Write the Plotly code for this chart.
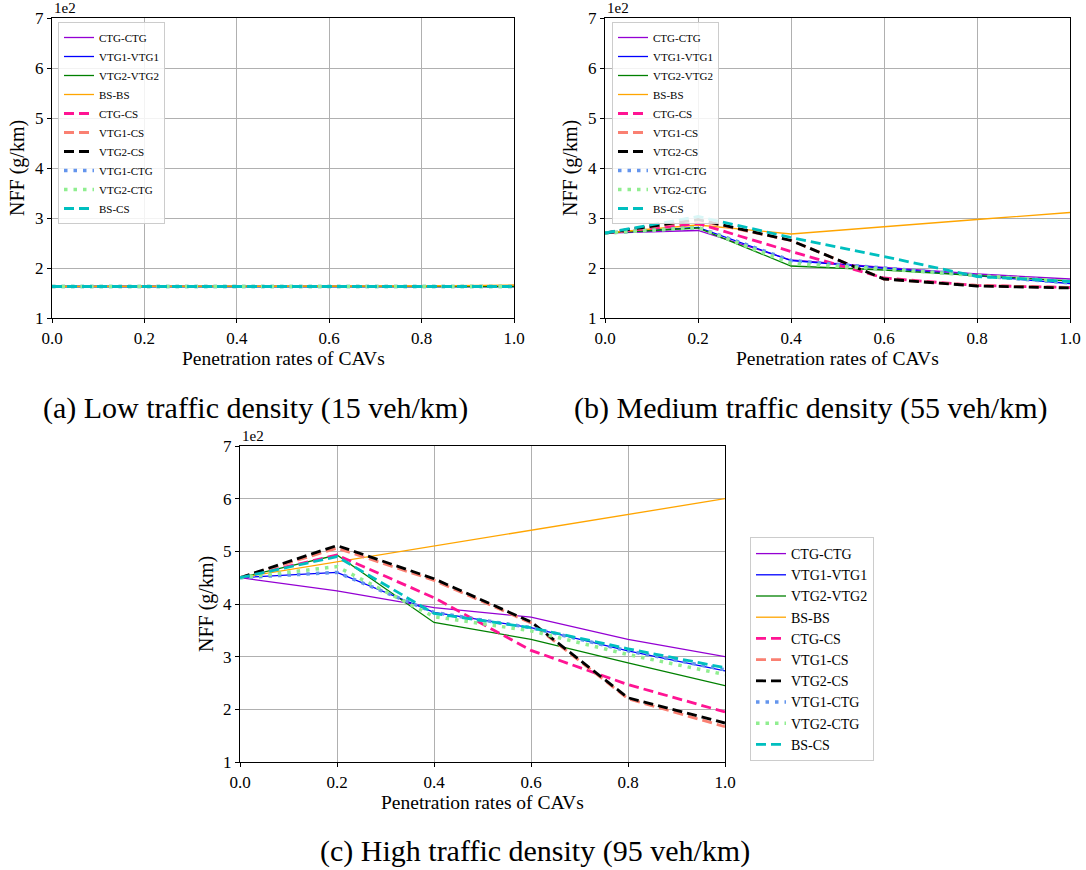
import plotly.graph_objects as go

x_rates = [0.0, 0.2, 0.4, 0.6, 0.8, 1.0]

series_names = ["CTG-CTG", "VTG1-VTG1", "VTG2-VTG2", "BS-BS", "CTG-CS",
                "VTG1-CS", "VTG2-CS", "VTG1-CTG", "VTG2-CTG", "BS-CS"]

# values in units of 1e2 g/km
low_density = {
    "CTG-CTG":   [1.63, 1.63, 1.63, 1.63, 1.63, 1.63],
    "VTG1-VTG1": [1.63, 1.63, 1.63, 1.63, 1.63, 1.63],
    "VTG2-VTG2": [1.63, 1.63, 1.63, 1.63, 1.63, 1.63],
    "BS-BS":     [1.63, 1.63, 1.63, 1.64, 1.64, 1.66],
    "CTG-CS":    [1.63, 1.63, 1.63, 1.63, 1.63, 1.63],
    "VTG1-CS":   [1.63, 1.63, 1.63, 1.63, 1.63, 1.63],
    "VTG2-CS":   [1.63, 1.63, 1.63, 1.63, 1.63, 1.63],
    "VTG1-CTG":  [1.63, 1.63, 1.63, 1.63, 1.63, 1.63],
    "VTG2-CTG":  [1.63, 1.63, 1.63, 1.63, 1.63, 1.63],
    "BS-CS":     [1.63, 1.63, 1.63, 1.63, 1.63, 1.63],
}

medium_density = {
    "CTG-CTG":   [2.70, 2.75, 2.16, 2.01, 1.88, 1.78],
    "VTG1-VTG1": [2.70, 2.81, 2.15, 2.00, 1.85, 1.69],
    "VTG2-VTG2": [2.70, 2.80, 2.04, 1.96, 1.85, 1.74],
    "BS-BS":     [2.70, 2.86, 2.68, 2.83, 2.97, 3.11],
    "CTG-CS":    [2.70, 2.89, 2.33, 1.80, 1.65, 1.61],
    "VTG1-CS":   [2.70, 2.95, 2.55, 1.78, 1.65, 1.61],
    "VTG2-CS":   [2.70, 2.97, 2.55, 1.78, 1.64, 1.60],
    "VTG1-CTG":  [2.70, 2.81, 2.15, 2.00, 1.85, 1.70],
    "VTG2-CTG":  [2.70, 2.81, 2.09, 1.98, 1.85, 1.73],
    "BS-CS":     [2.70, 3.03, 2.61, 2.23, 1.83, 1.73],
}

high_density = {
    "CTG-CTG":   [4.50, 4.25, 3.93, 3.75, 3.33, 3.00],
    "VTG1-VTG1": [4.50, 4.60, 3.84, 3.55, 3.11, 2.73],
    "VTG2-VTG2": [4.50, 4.93, 3.65, 3.33, 2.88, 2.45],
    "BS-BS":     [4.50, 4.80, 5.10, 5.40, 5.70, 6.00],
    "CTG-CS":    [4.50, 4.93, 4.12, 3.12, 2.47, 1.95],
    "VTG1-CS":   [4.50, 5.06, 4.45, 3.64, 2.20, 1.67],
    "VTG2-CS":   [4.50, 5.11, 4.48, 3.66, 2.22, 1.74],
    "VTG1-CTG":  [4.50, 4.60, 3.84, 3.55, 3.11, 2.75],
    "VTG2-CTG":  [4.50, 4.71, 3.76, 3.49, 3.04, 2.66],
    "BS-CS":     [4.50, 4.90, 3.82, 3.55, 3.15, 2.79],
}

y_ticks = [1, 2, 3, 4, 5, 6, 7]
x_ticks = [0.0, 0.2, 0.4, 0.6, 0.8, 1.0]

captions = ["(a) Low traffic density (15 veh/km)",
            "(b) Medium traffic density (55 veh/km)",
            "(c) High traffic density (95 veh/km)"]

styles = {
    "CTG-CTG":   dict(color="#9400D3", width=1.3, dash="solid"),
    "VTG1-VTG1": dict(color="#0000FF", width=1.3, dash="solid"),
    "VTG2-VTG2": dict(color="#008000", width=1.3, dash="solid"),
    "BS-BS":     dict(color="#FFA500", width=1.3, dash="solid"),
    "CTG-CS":    dict(color="#FF1493", width=2.8, dash="10px,5px"),
    "VTG1-CS":   dict(color="#FA8072", width=2.8, dash="10px,5px"),
    "VTG2-CS":   dict(color="#000000", width=2.8, dash="10px,5px"),
    "VTG1-CTG":  dict(color="#6495ED", width=3.5, dash="3.5px,6px"),
    "VTG2-CTG":  dict(color="#90EE90", width=3.5, dash="3.5px,6px"),
    "BS-CS":     dict(color="#00BFBF", width=2.8, dash="10px,5px"),
}

W, H = 1086, 870
FONT = "Liberation Serif"

def px_x(p):
    return p / W

def px_y(p):
    return 1 - p / H

panels = [
    dict(data=low_density, xs=(52, 514), ys=(18, 318), legend="legend"),
    dict(data=medium_density, xs=(605, 1070), ys=(18, 318), legend="legend2"),
    dict(data=high_density, xs=(240, 725), ys=(446, 762), legend="legend3"),
]

fig = go.Figure()
layout = {}
annotations = []

for i, pnl in enumerate(panels):
    n = "" if i == 0 else str(i + 1)
    xa, ya = "x" + n, "y" + n
    for name in series_names:
        fig.add_trace(go.Scatter(
            x=x_rates, y=pnl["data"][name], mode="lines", name=name,
            line=styles[name], xaxis=xa, yaxis=ya, legend=pnl["legend"],
        ))
    x0, x1 = pnl["xs"]
    y0, y1 = pnl["ys"]
    axis_common = dict(
        showline=True, linecolor="black", linewidth=1.3, mirror=True,
        showgrid=True, gridcolor="#b0b0b0", gridwidth=1, automargin=False,
        ticks="outside", ticklen=4, tickcolor="black", zeroline=False,
        tickfont=dict(family=FONT, size=17, color="black"),
    )
    layout["xaxis" + n] = dict(
        domain=[px_x(x0), px_x(x1)], range=[0, 1], anchor=ya,
        tickvals=x_ticks, ticktext=[f"{v:.1f}" for v in x_ticks], **axis_common)
    layout["yaxis" + n] = dict(
        domain=[px_y(y1), px_y(y0)], range=[1, 7], anchor=xa,
        tickvals=y_ticks, ticktext=[str(v) for v in y_ticks], **axis_common)
    # offset label
    annotations.append(dict(text="1e2", x=px_x(x0), y=px_y(y0), xref="paper", yref="paper",
                            xanchor="left", yanchor="bottom", showarrow=False,
                            font=dict(family=FONT, size=15, color="black")))
    # axis titles
    annotations.append(dict(text="Penetration rates of CAVs", x=px_x((x0 + x1) / 2),
                            y=px_y(y1 + 40), xref="paper", yref="paper",
                            xanchor="center", yanchor="middle", showarrow=False,
                            font=dict(family=FONT, size=19.5, color="black")))
    annotations.append(dict(text="NFF (g/km)", x=px_x(x0 - 34), y=px_y((y0 + y1) / 2),
                            xref="paper", yref="paper", textangle=-90,
                            xanchor="center", yanchor="middle", showarrow=False,
                            font=dict(family=FONT, size=20, color="black")))

cap_pos = [(255, 408), (811, 408), (535, 851)]
for cap, (cx, cy) in zip(captions, cap_pos):
    annotations.append(dict(text=cap, x=px_x(cx), y=px_y(cy), xref="paper", yref="paper",
                            xanchor="center", yanchor="middle", showarrow=False,
                            font=dict(family=FONT, size=30, color="black")))

legend_common = dict(bgcolor="rgba(255,255,255,0.85)", bordercolor="#cccccc", borderwidth=1,
                     xref="paper", yref="paper", xanchor="left", yanchor="top",
                     tracegroupgap=0, itemwidth=30)
layout["legend"] = dict(x=px_x(58), y=px_y(22), font=dict(family=FONT, size=11, color="black"),
                        **legend_common)
layout["legend2"] = dict(x=px_x(612), y=px_y(22), font=dict(family=FONT, size=11, color="black"),
                         **legend_common)
layout["legend3"] = dict(x=px_x(750), y=px_y(537), font=dict(family=FONT, size=14, color="black"),
                         **legend_common)

fig.update_layout(width=W, height=H,
                  margin=dict(l=0, r=0, t=0, b=0, pad=0, autoexpand=False),
                  paper_bgcolor="white", plot_bgcolor="white",
                  annotations=annotations, showlegend=True, **layout)

fig.write_html("out.html")
